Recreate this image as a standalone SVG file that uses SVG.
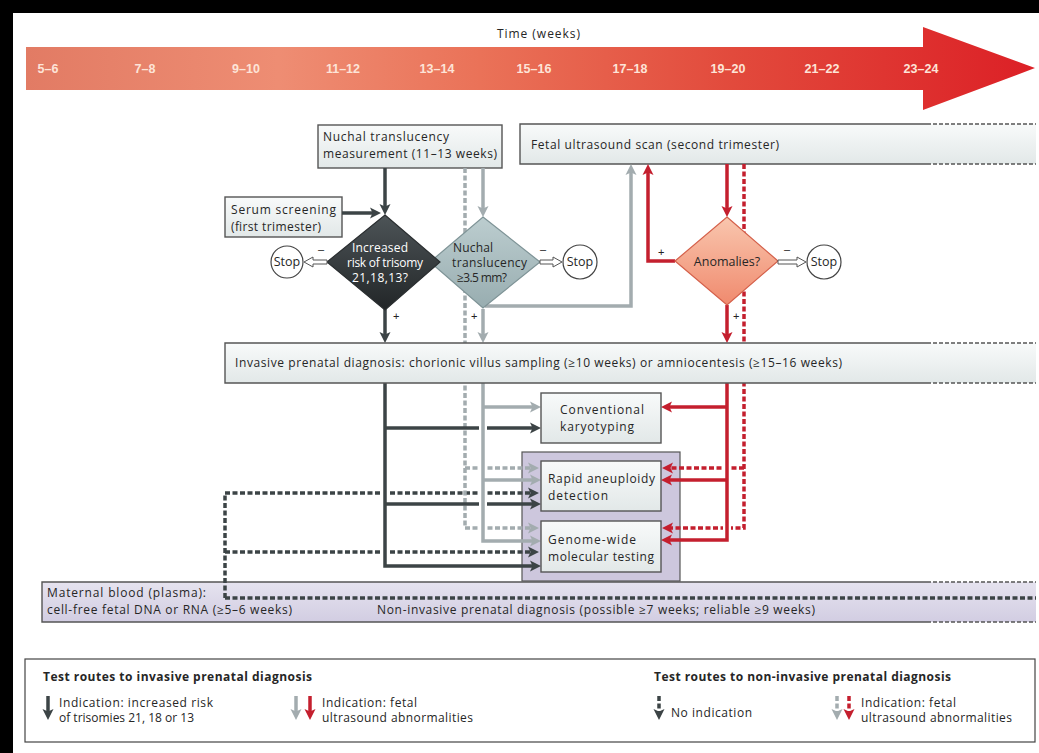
<svg xmlns="http://www.w3.org/2000/svg" width="1039" height="753" viewBox="0 0 1039 753">
<defs>
  <linearGradient id="gTime" x1="26" y1="0" x2="1035" y2="0" gradientUnits="userSpaceOnUse">
    <stop offset="0" stop-color="#e27b64"/>
    <stop offset="0.25" stop-color="#ee8d73"/>
    <stop offset="0.45" stop-color="#ea7258"/>
    <stop offset="0.7" stop-color="#e24a3c"/>
    <stop offset="1" stop-color="#dc2026"/>
  </linearGradient>
  <linearGradient id="gBox" x1="0" y1="0" x2="0" y2="1">
    <stop offset="0" stop-color="#f8fafa"/>
    <stop offset="1" stop-color="#e2e8e8"/>
  </linearGradient>
  <linearGradient id="gPlasma" x1="0" y1="0" x2="0" y2="1">
    <stop offset="0" stop-color="#e6e3ef"/>
    <stop offset="1" stop-color="#d2cde2"/>
  </linearGradient>
  <linearGradient id="gDark" x1="0" y1="0" x2="0" y2="1">
    <stop offset="0" stop-color="#4d5457"/>
    <stop offset="1" stop-color="#222628"/>
  </linearGradient>
  <linearGradient id="gGrey" x1="0" y1="0" x2="0" y2="1">
    <stop offset="0" stop-color="#bccdcf"/>
    <stop offset="1" stop-color="#98adb0"/>
  </linearGradient>
  <linearGradient id="gAnom" x1="0" y1="0" x2="0" y2="1">
    <stop offset="0" stop-color="#f9c6ae"/>
    <stop offset="1" stop-color="#f08a6e"/>
  </linearGradient>
  <marker id="ahDk" markerUnits="userSpaceOnUse" markerWidth="12" markerHeight="12" viewBox="0 0 12 12" refX="4" refY="6" orient="auto">
    <path d="M0,0.5 L11,6 L0,11.5 L2.5,6 z" fill="#3c4446"/>
  </marker>
  <marker id="ahGr" markerUnits="userSpaceOnUse" markerWidth="12" markerHeight="12" viewBox="0 0 12 12" refX="4" refY="6" orient="auto">
    <path d="M0,0.5 L11,6 L0,11.5 L2.5,6 z" fill="#a3acaf"/>
  </marker>
  <marker id="ahRd" markerUnits="userSpaceOnUse" markerWidth="12" markerHeight="12" viewBox="0 0 12 12" refX="4" refY="6" orient="auto">
    <path d="M0,0.5 L11,6 L0,11.5 L2.5,6 z" fill="#c41f2e"/>
  </marker>
</defs>
<style>
  .t{font-family:"Open Sans","Liberation Sans",sans-serif;font-size:12px;fill:#262626}
  .tw{font-family:"Open Sans","Liberation Sans",sans-serif;font-size:12px;fill:#ffffff}
  .tb{font-family:"Open Sans","Liberation Sans",sans-serif;font-size:12px;font-weight:bold;fill:#262626}
  .ts{font-family:"Open Sans","Liberation Sans",sans-serif;font-size:12.5px;fill:#262626;text-anchor:middle}
  .tl{font-family:"Liberation Sans",Arial,sans-serif;font-weight:bold;font-size:12.5px;fill:#fde4d8;text-anchor:middle}
  .box{stroke:#555;stroke-width:1.4;fill:url(#gBox)}
  .edge{fill:none;stroke:#555;stroke-width:1.4}
  .edash{fill:none;stroke:#555;stroke-width:1.4;stroke-dasharray:4 2}
  .dk{fill:none;stroke:#3c4446;stroke-width:3.5}
  .gr{fill:none;stroke:#a3acaf;stroke-width:3.5}
  .rd{fill:none;stroke:#c41f2e;stroke-width:3.5}
  .dot{stroke-dasharray:5 2.5}
  .halo{fill:none;stroke:#ffffff;stroke-width:8}
  .hollow{fill:#ffffff;stroke:#555;stroke-width:1}
  .stop{fill:#ffffff;stroke:#444;stroke-width:1.2}
  .lbl{font-family:"Liberation Sans",Arial,sans-serif;font-size:11px;fill:#222222}
</style>
<rect x="0" y="0" width="1039" height="753" fill="#ffffff"/>
<rect x="0" y="0" width="1039" height="13" fill="#000000"/>
<rect x="0" y="0" width="13" height="753" fill="#000000"/>

<g id="timeline">
  <text class="t" x="497" y="38" textLength="83">Time (weeks)</text>
  <polygon points="26,47 923,47 923,27 1035,68 923,110 923,90 26,90" fill="url(#gTime)"/>
  <text class="tl" x="48" y="73">5–6</text>
  <text class="tl" x="145" y="73">7–8</text>
  <text class="tl" x="246" y="73">9–10</text>
  <text class="tl" x="343" y="73">11–12</text>
  <text class="tl" x="437" y="73">13–14</text>
  <text class="tl" x="534" y="73">15–16</text>
  <text class="tl" x="630" y="73">17–18</text>
  <text class="tl" x="728" y="73">19–20</text>
  <text class="tl" x="822" y="73">21–22</text>
  <text class="tl" x="921" y="73">23–24</text>
</g>

<g id="panel-molecular">
  <rect x="522" y="452" width="158" height="129" fill="#cdc7dd" stroke="#555" stroke-width="1.2"/>
</g>

<g id="maternal-blood">
  <rect x="42" y="582" width="994" height="40" fill="url(#gPlasma)"/>
  <path class="edge" d="M927,582 H42 V622 H927"/>
  <path class="edash" d="M927,582 H1036 M927,622 H1036"/>
  <text class="t" x="47" y="597" textLength="159">Maternal blood (plasma):</text>
  <text class="t" x="47" y="614" textLength="245">cell-free fetal DNA or RNA (≥5–6 weeks)</text>
  <text class="t" x="377" y="614" textLength="438">Non-invasive prenatal diagnosis (possible ≥7 weeks; reliable ≥9 weeks)</text>
</g>

<g id="fetal-ultrasound">
  <rect x="520" y="124" width="516" height="40" fill="url(#gBox)"/>
  <path class="edge" d="M927,124 H520 V164 H927"/>
  <path class="edash" d="M927,124 H1036 M927,164 H1036"/>
  <text class="t" x="531" y="149" textLength="248">Fetal ultrasound scan (second trimester)</text>
</g>

<g id="nuchal-measurement">
  <rect class="box" x="318" y="125" width="184" height="43"/>
  <text class="t" x="323" y="141" textLength="126">Nuchal translucency</text>
  <text class="t" x="323" y="158" textLength="174">measurement (11–13 weeks)</text>
</g>

<g id="serum-screening">
  <rect class="box" x="225" y="197" width="117" height="40"/>
  <text class="t" x="231" y="214" textLength="105">Serum screening</text>
  <text class="t" x="231" y="231" textLength="90">(first trimester)</text>
</g>

<g id="connectors">
  <!-- dotted routes (non-invasive) -->
  <path class="dk dot" d="M225,598 H1036"/>
  <path class="dk dot" d="M225,598 V493 H532" marker-end="url(#ahDk)"/>
  <path class="dk dot" d="M225,552 H532" marker-end="url(#ahDk)"/>
  <path class="gr dot" d="M465,168 V528 H532" marker-end="url(#ahGr)"/>
  <path class="gr dot" d="M465,468 H532" marker-end="url(#ahGr)"/>
  <path class="rd dot" d="M744,164 V528 H669" marker-end="url(#ahRd)"/>
  <path class="rd dot" d="M744,468 H669" marker-end="url(#ahRd)"/>
  <!-- dark solid -->
  <path class="halo" d="M385,386 V560"/>
  <path class="dk" d="M385,168 V208" marker-end="url(#ahDk)"/>
  <path class="dk" d="M342,213 H374" marker-end="url(#ahDk)"/>
  <path class="dk" d="M385,309 V336" marker-end="url(#ahDk)"/>
  <path class="dk" d="M385,383 V566 H534" marker-end="url(#ahDk)"/>
  <path class="dk" d="M385,428 H534" marker-end="url(#ahDk)"/>
  <path class="dk" d="M385,504 H534" marker-end="url(#ahDk)"/>
  <!-- grey solid -->
  <path class="halo" d="M483,386 V536"/>
  <path class="gr" d="M483,168 V210" marker-end="url(#ahGr)"/>
  <path class="gr" d="M483,309 V336" marker-end="url(#ahGr)"/>
  <path class="gr" d="M485,306 H631 V171" marker-end="url(#ahGr)"/>
  <path class="gr" d="M483,383 V541 H534" marker-end="url(#ahGr)"/>
  <path class="gr" d="M483,407 H534" marker-end="url(#ahGr)"/>
  <path class="gr" d="M483,480 H534" marker-end="url(#ahGr)"/>
  <!-- red solid -->
  <path class="halo" d="M727,386 V535"/>
  <path class="rd" d="M727,164 V210" marker-end="url(#ahRd)"/>
  <path class="rd" d="M675,261 H648 V171" marker-end="url(#ahRd)"/>
  <path class="rd" d="M727,305 V336" marker-end="url(#ahRd)"/>
  <path class="rd" d="M727,383 V540 H668" marker-end="url(#ahRd)"/>
  <path class="rd" d="M727,407 H668" marker-end="url(#ahRd)"/>
  <path class="rd" d="M727,480 H668" marker-end="url(#ahRd)"/>
  <!-- +/- labels -->
  <text class="lbl" x="393" y="320">+</text>
  <text class="lbl" x="471" y="320">+</text>
  <text class="lbl" x="658" y="256">+</text>
  <text class="lbl" x="733" y="320">+</text>
</g>

<g id="decision-nuchal">
  <polygon points="483,217 540,262 483,308 430,262" fill="url(#gGrey)" stroke="#7e9396" stroke-width="1.2"/>
  <text class="t" x="453" y="252" textLength="40">Nuchal</text>
  <text class="t" x="452" y="267" textLength="75">translucency</text>
  <text class="t" x="457" y="282" textLength="50">≥3.5 mm?</text>
</g>

<g id="decision-trisomy">
  <polygon points="385,215 440,262 385,310 327,262" fill="url(#gDark)" stroke="#2a2e30" stroke-width="1.2"/>
  <text class="tw" x="352" y="252" textLength="56">Increased</text>
  <text class="tw" x="347" y="267" textLength="76">risk of trisomy</text>
  <text class="tw" x="352" y="282" textLength="56">21,18,13?</text>
</g>

<g id="decision-anomalies">
  <polygon points="727,217 778,261 727,305 675,261" fill="url(#gAnom)" stroke="#d4604a" stroke-width="1.2"/>
  <text class="ts" x="727" y="266">Anomalies?</text>
</g>

<g id="stop-1">
  <path class="hollow" d="M327,260 H313 V257 L304,262 L313,267 V264 H327 z"/>
  <circle class="stop" cx="287" cy="262" r="16"/>
  <text class="ts" x="287" y="266">Stop</text>
  <text class="lbl" x="318" y="253">–</text>
</g>
<g id="stop-2">
  <path class="hollow" d="M540,260 H553 V257 L562,262 L553,267 V264 H540 z"/>
  <circle class="stop" cx="580" cy="262" r="17"/>
  <text class="ts" x="580" y="266">Stop</text>
  <text class="lbl" x="540" y="253">–</text>
</g>
<g id="stop-3">
  <path class="hollow" d="M778,260 H797 V257 L806,262 L797,267 V264 H778 z"/>
  <circle class="stop" cx="824" cy="262" r="17"/>
  <text class="ts" x="824" y="266">Stop</text>
  <text class="lbl" x="784" y="253">–</text>
</g>

<g id="invasive-diagnosis">
  <rect x="225" y="343" width="811" height="40" fill="url(#gBox)"/>
  <path class="edge" d="M927,343 H225 V383 H927"/>
  <path class="edash" d="M927,343 H1036 M927,383 H1036"/>
  <text class="t" x="235" y="367" textLength="607">Invasive prenatal diagnosis: chorionic villus sampling (≥10 weeks) or amniocentesis (≥15–16 weeks)</text>
</g>

<g id="karyotyping">
  <rect class="box" x="541" y="393" width="120" height="50"/>
  <text class="t" x="560" y="414" textLength="84">Conventional</text>
  <text class="t" x="560" y="431" textLength="74">karyotyping</text>
</g>

<g id="rapid-aneuploidy">
  <rect class="box" x="541" y="461" width="120" height="50"/>
  <text class="t" x="548" y="483" textLength="107">Rapid aneuploidy</text>
  <text class="t" x="548" y="500" textLength="60">detection</text>
</g>

<g id="genome-wide">
  <rect class="box" x="541" y="521" width="120" height="51"/>
  <text class="t" x="548" y="544" textLength="88">Genome-wide</text>
  <text class="t" x="548" y="561" textLength="106">molecular testing</text>
</g>

<g id="legend">
  <rect x="25" y="659" width="1010" height="83" fill="#ffffff" stroke="#444" stroke-width="1.2"/>
  <text class="tb" x="43" y="681" textLength="269">Test routes to invasive prenatal diagnosis</text>
  <text class="tb" x="654" y="681" textLength="297">Test routes to non-invasive prenatal diagnosis</text>
  <path class="dk" d="M48,696 V713" marker-end="url(#ahDk)"/>
  <text class="t" x="59" y="707" textLength="154">Indication: increased risk</text>
  <text class="t" x="59" y="722" textLength="135">of trisomies 21, 18 or 13</text>
  <path class="gr" d="M296,696 V713" marker-end="url(#ahGr)"/>
  <path class="rd" d="M310,696 V713" marker-end="url(#ahRd)"/>
  <text class="t" x="322" y="707" textLength="95">Indication: fetal</text>
  <text class="t" x="322" y="722" textLength="151">ultrasound abnormalities</text>
  <path class="dk dot" d="M659,696 V713" marker-end="url(#ahDk)"/>
  <text class="t" x="671" y="717" textLength="81">No indication</text>
  <path class="gr dot" d="M837,696 V713" marker-end="url(#ahGr)"/>
  <path class="rd dot" d="M849,696 V713" marker-end="url(#ahRd)"/>
  <text class="t" x="861" y="707" textLength="95">Indication: fetal</text>
  <text class="t" x="861" y="722" textLength="151">ultrasound abnormalities</text>
</g>
</svg>
